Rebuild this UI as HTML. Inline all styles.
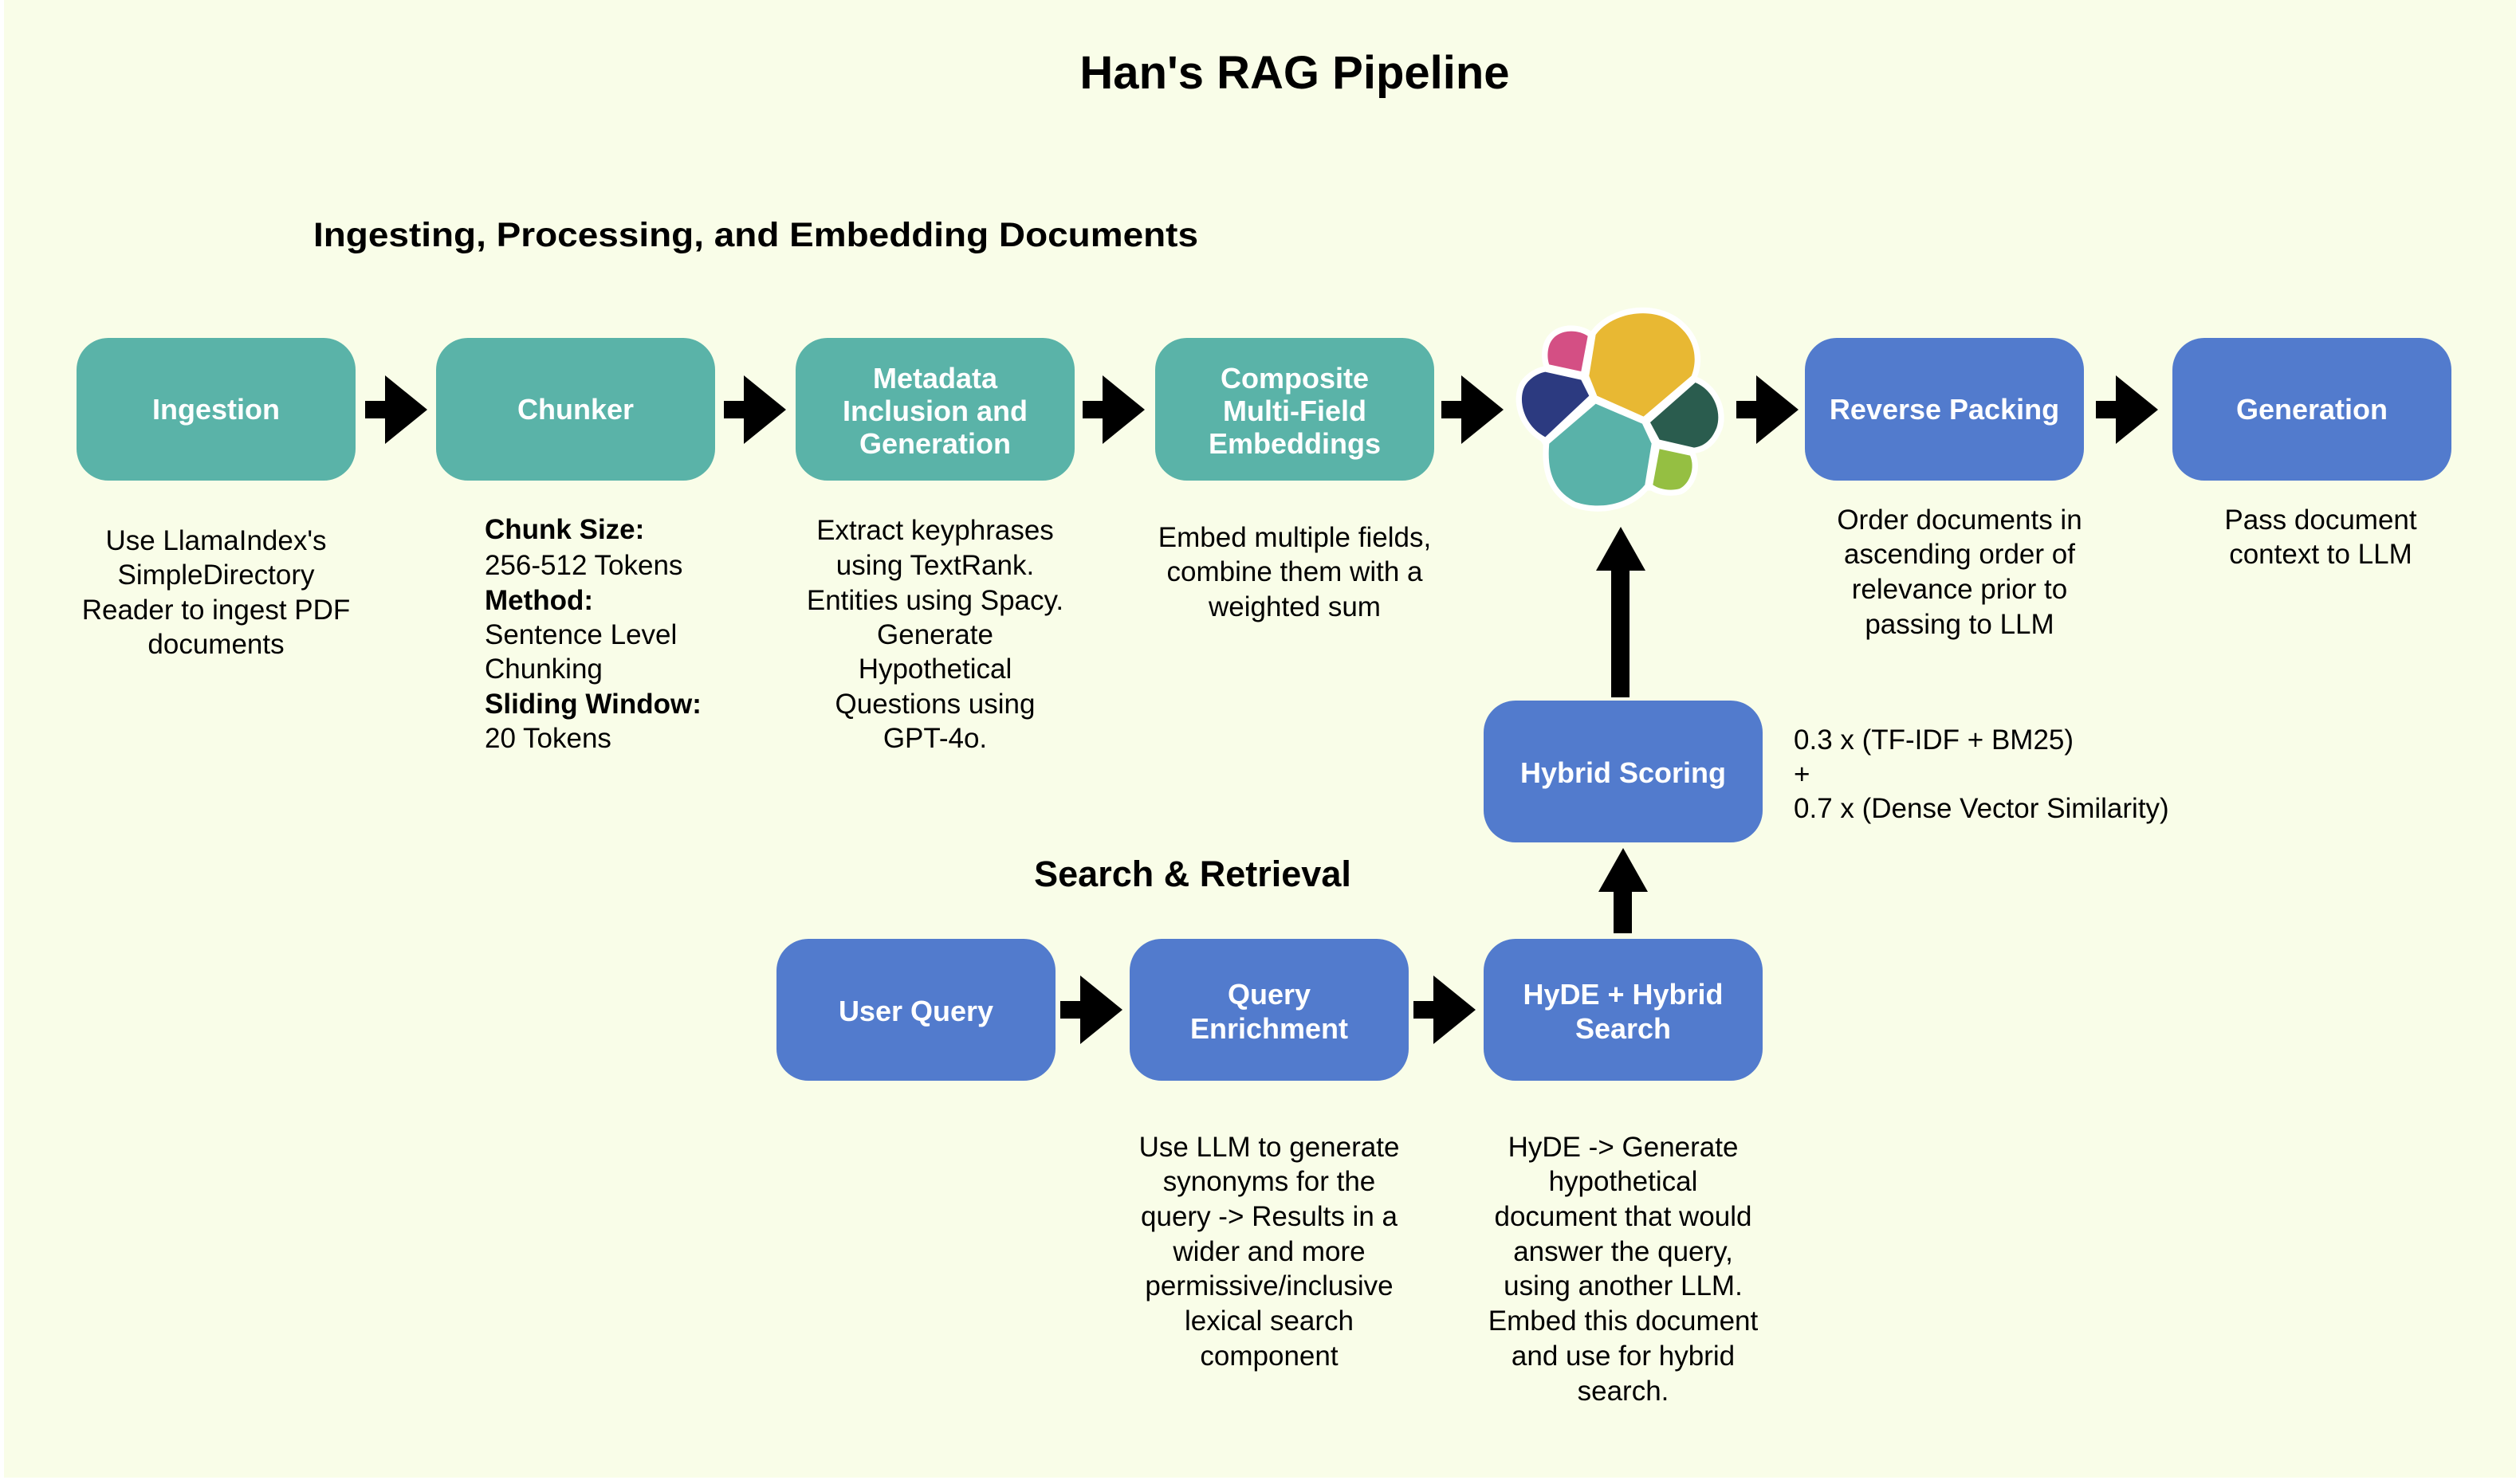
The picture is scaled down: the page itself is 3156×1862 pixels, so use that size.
<!DOCTYPE html>
<html><head><meta charset="utf-8"><style>
html,body{margin:0;padding:0;background:#fff;}
svg{display:block;}
text{font-family:"Liberation Sans",sans-serif;}
.d{font-size:35px;fill:#000;text-anchor:middle;}
.l{font-size:35px;fill:#000;}
.b{font-size:36px;font-weight:bold;fill:#fff;text-anchor:middle;}
</style></head><body>
<svg width="3156" height="1862" viewBox="0 0 3156 1862" xmlns="http://www.w3.org/2000/svg">
<rect x="5" y="0" width="3151" height="1854" fill="#f9fde8"/>
<text x="1624" y="111" text-anchor="middle" font-size="58" font-weight="bold" fill="#000">Han's RAG Pipeline</text>
<text x="393" y="309" font-size="43" font-weight="bold" fill="#000" textLength="1110" lengthAdjust="spacingAndGlyphs">Ingesting, Processing, and Embedding Documents</text>
<text x="1496" y="1112" text-anchor="middle" font-size="45" font-weight="bold" fill="#000">Search &amp; Retrieval</text>

<g fill="#5ab3a8">
<rect x="96" y="424" width="350" height="179" rx="40"/>
<rect x="547" y="424" width="350" height="179" rx="40"/>
<rect x="998" y="424" width="350" height="179" rx="40"/>
<rect x="1449" y="424" width="350" height="179" rx="40"/>
</g>
<g fill="#527bcd">
<rect x="2264" y="424" width="350" height="179" rx="40"/>
<rect x="2725" y="424" width="350" height="179" rx="40"/>
<rect x="1861" y="879" width="350" height="178" rx="40"/>
<rect x="974" y="1178" width="350" height="178" rx="40"/>
<rect x="1417" y="1178" width="350" height="178" rx="40"/>
<rect x="1861" y="1178" width="350" height="178" rx="40"/>
</g>
<text class="b" x="271" y="526">Ingestion</text>
<text class="b" x="722" y="526">Chunker</text>
<text class="b" x="1173" y="487">Metadata</text>
<text class="b" x="1173" y="528">Inclusion and</text>
<text class="b" x="1173" y="569">Generation</text>
<text class="b" x="1624" y="487">Composite</text>
<text class="b" x="1624" y="528">Multi-Field</text>
<text class="b" x="1624" y="569">Embeddings</text>
<text class="b" x="2439" y="526">Reverse Packing</text>
<text class="b" x="2900" y="526">Generation</text>
<text class="b" x="2036" y="982">Hybrid Scoring</text>
<text class="b" x="1149" y="1281">User Query</text>
<text class="b" x="1592" y="1260">Query</text>
<text class="b" x="1592" y="1303">Enrichment</text>
<text class="b" x="2036" y="1260">HyDE + Hybrid</text>
<text class="b" x="2036" y="1303">Search</text>

<g fill="#000">
<path d="M458,503 h25 v-32 l53,43 l-53,43 v-32 h-25 z"/>
<path d="M908,503 h25 v-32 l53,43 l-53,43 v-32 h-25 z"/>
<path d="M1358,503 h25 v-32 l53,43 l-53,43 v-32 h-25 z"/>
<path d="M1808,503 h25 v-32 l53,43 l-53,43 v-32 h-25 z"/>
<path d="M2178,503 h25 v-32 l53,43 l-53,43 v-32 h-25 z"/>
<path d="M2629,503 h25 v-32 l53,43 l-53,43 v-32 h-25 z"/>
<path d="M1330,1256 h25 v-32 l53,43 l-53,43 v-32 h-25 z"/>
<path d="M1773,1256 h25 v-32 l53,43 l-53,43 v-32 h-25 z"/>
<path d="M2021,875 v-159 h-19 l31,-55 l31,55 h-20 v159 z"/>
<path d="M2024,1171 v-52 h-19 l31,-55 l31,55 h-20 v52 z"/>
</g>

<g transform="translate(1850,360) scale(0.3333)">
<g fill="#fff" stroke="#fff" stroke-width="44" stroke-linejoin="round">
<path d="M430,335 L455,180 C520,90 700,60 790,170 C840,230 830,300 815,335 L635,488 L460,410 Z"/>
<path d="M400,318 L425,185 C380,155 300,160 280,220 C270,250 275,280 280,292 Z"/>
<path d="M265,320 L400,350 L430,410 L265,565 C180,520 160,420 190,370 C210,340 240,325 265,320 Z"/>
<path d="M455,440 L630,515 L665,590 L640,745 C580,820 470,840 380,810 C300,770 270,700 280,590 Z"/>
<path d="M660,510 L830,360 C900,390 930,470 910,530 C890,580 860,600 825,605 L695,575 Z"/>
<path d="M695,610 L810,635 C830,680 810,740 770,760 C730,770 690,760 670,745 Z"/>
<path d="M430,335 L635,488 L660,510 L695,575 L695,610 L670,745 L640,745 L280,590 L265,565 L265,320 L400,318 Z"/>
</g>
<path fill="#e8b833" d="M430,335 L455,180 C520,90 700,60 790,170 C840,230 830,300 815,335 L635,488 L460,410 Z"/>
<path fill="#d44f84" d="M400,318 L425,185 C380,155 300,160 280,220 C270,250 275,280 280,292 Z"/>
<path fill="#2c3a80" d="M265,320 L400,350 L430,410 L265,565 C180,520 160,420 190,370 C210,340 240,325 265,320 Z"/>
<path fill="#59b2a9" d="M455,440 L630,515 L665,590 L640,745 C580,820 470,840 380,810 C300,770 270,700 280,590 Z"/>
<path fill="#2a5c4e" d="M660,510 L830,360 C900,390 930,470 910,530 C890,580 860,600 825,605 L695,575 Z"/>
<path fill="#95bf42" d="M695,610 L810,635 C830,680 810,740 770,760 C730,770 690,760 670,745 Z"/>
</g>

<g class="d">
<text class="d" x="271" y="690">Use LlamaIndex's</text>
<text class="d" x="271" y="733">SimpleDirectory</text>
<text class="d" x="271" y="777">Reader to ingest PDF</text>
<text class="d" x="271" y="820">documents</text>

<text class="d" x="1173" y="677">Extract keyphrases</text>
<text class="d" x="1173" y="721">using TextRank.</text>
<text class="d" x="1173" y="765">Entities using Spacy.</text>
<text class="d" x="1173" y="808">Generate</text>
<text class="d" x="1173" y="851">Hypothetical</text>
<text class="d" x="1173" y="895">Questions using</text>
<text class="d" x="1173" y="938">GPT-4o.</text>

<text class="d" x="1624" y="686">Embed multiple fields,</text>
<text class="d" x="1624" y="729">combine them with a</text>
<text class="d" x="1624" y="773">weighted sum</text>

<text class="d" x="2458" y="664">Order documents in</text>
<text class="d" x="2458" y="707">ascending order of</text>
<text class="d" x="2458" y="751">relevance prior to</text>
<text class="d" x="2458" y="795">passing to LLM</text>

<text class="d" x="2911" y="664">Pass document</text>
<text class="d" x="2911" y="707">context to LLM</text>

<text class="d" x="1592" y="1451">Use LLM to generate</text>
<text class="d" x="1592" y="1494">synonyms for the</text>
<text class="d" x="1592" y="1538">query -&gt; Results in a</text>
<text class="d" x="1592" y="1582">wider and more</text>
<text class="d" x="1592" y="1625">permissive/inclusive</text>
<text class="d" x="1592" y="1669">lexical search</text>
<text class="d" x="1592" y="1713">component</text>

<text class="d" x="2036" y="1451">HyDE -&gt; Generate</text>
<text class="d" x="2036" y="1494">hypothetical</text>
<text class="d" x="2036" y="1538">document that would</text>
<text class="d" x="2036" y="1582">answer the query,</text>
<text class="d" x="2036" y="1625">using another LLM.</text>
<text class="d" x="2036" y="1669">Embed this document</text>
<text class="d" x="2036" y="1713">and use for hybrid</text>
<text class="d" x="2036" y="1757">search.</text>
</g>
<text class="l" x="608" y="676" font-weight="bold">Chunk Size:</text>
<text class="l" x="608" y="721">256-512 Tokens</text>
<text class="l" x="608" y="765" font-weight="bold">Method:</text>
<text class="l" x="608" y="808">Sentence Level</text>
<text class="l" x="608" y="851">Chunking</text>
<text class="l" x="608" y="895" font-weight="bold">Sliding Window:</text>
<text class="l" x="608" y="938">20 Tokens</text>

<text class="l" x="2250" y="940" font-size="36">0.3 x (TF-IDF + BM25)</text>
<text class="l" x="2250" y="983" font-size="36">+</text>
<text class="l" x="2250" y="1026" font-size="36">0.7 x (Dense Vector Similarity)</text>
</svg>
</body></html>
